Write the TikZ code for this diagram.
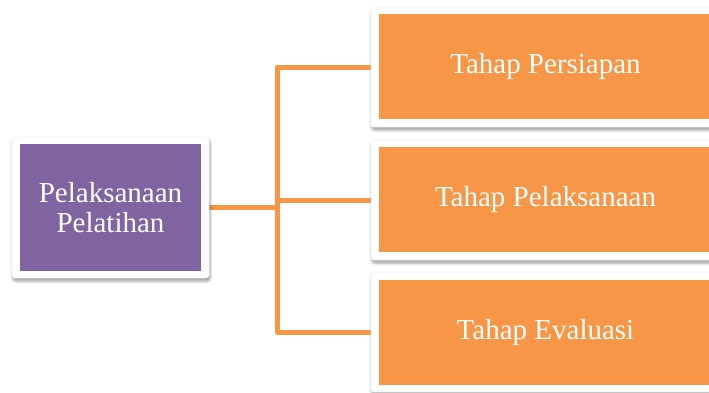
\documentclass[tikz,border=0pt]{standalone}
\usepackage{fontspec}
\setmainfont{Liberation Serif}
\usetikzlibrary{shadows.blur,backgrounds}
\definecolor{oran}{HTML}{F79646}
\definecolor{purp}{HTML}{8064A2}
\tikzset{
  frame/.style={draw=black!6, line width=0.6pt, fill=white, rounded corners=3pt, inner sep=0pt,
    blur shadow={shadow xshift=1pt, shadow yshift=-3pt, shadow blur radius=3pt, shadow opacity=40}},
  innerbox/.style={draw=none, inner sep=0pt, text=white, align=center,
    font=\fontsize{29}{30}\selectfont},
  conn/.style={draw=oran, line width=5pt, line join=round}
}
\begin{document}
\begin{tikzpicture}[x=1pt,y=-1pt]
\useasboundingbox (0,0) rectangle (709,392);
% left
\node[frame, minimum width=197pt, minimum height=141pt] (L) at (110.5,207.5) {};
\node[innerbox, fill=purp, minimum width=181pt, minimum height=127pt] (Li) at (110.5,207.5) {Pelaksanaan\\Pelatihan};
% right
\node[frame, minimum width=348pt, minimum height=120pt] (A) at (545,67) {};
\node[innerbox, fill=oran, minimum width=333pt, minimum height=105pt] (Ai) at (545.5,66.5) {Tahap Persiapan};
\node[frame, minimum width=348pt, minimum height=120pt] (B) at (545,200) {};
\node[innerbox, fill=oran, minimum width=333pt, minimum height=105pt] (Bi) at (545.5,199.5) {Tahap Pelaksanaan};
\node[frame, minimum width=348pt, minimum height=120pt] (C) at (545,332) {};
\node[innerbox, fill=oran, minimum width=333pt, minimum height=105pt] (Ci) at (545.5,332.5) {Tahap Evaluasi};
\coordinate (j) at (277,207.5);
\begin{scope}[on background layer]
\draw[conn] (L.east) -- (j);
\draw[conn] (A.west) -| (j);
\draw[conn] (C.west) -| (j);
\draw[conn] (B.west) -- (B.west -| j);
\end{scope}
\end{tikzpicture}
\end{document}
